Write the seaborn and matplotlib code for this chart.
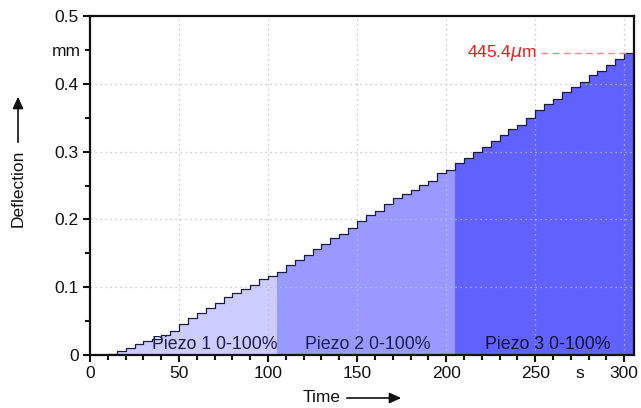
import numpy as np
import pandas as pd
import matplotlib
matplotlib.use("Agg")
import matplotlib.pyplot as plt
import seaborn as sns

# ---- data ----
time_s = [0, 5, 10, 15, 20, 25, 30, 35, 40, 45, 50, 55, 60, 65, 70, 75, 80, 85, 90, 95,
          100, 105, 110, 115, 120, 125, 130, 135, 140, 145, 150, 155, 160, 165, 170, 175,
          180, 185, 190, 195, 200, 205, 210, 215, 220, 225, 230, 235, 240, 245, 250, 255,
          260, 265, 270, 275, 280, 285, 290, 295, 300, 305]
deflection_mm = [0.000, 0.000, 0.002, 0.006, 0.010, 0.016, 0.020, 0.023, 0.029, 0.036,
                 0.045, 0.055, 0.062, 0.069, 0.077, 0.085, 0.092, 0.097, 0.103, 0.112,
                 0.117, 0.123, 0.133, 0.140, 0.148, 0.156, 0.163, 0.173, 0.179, 0.188,
                 0.198, 0.207, 0.213, 0.222, 0.231, 0.238, 0.243, 0.251, 0.257, 0.269,
                 0.273, 0.283, 0.290, 0.299, 0.307, 0.315, 0.3245, 0.333, 0.339, 0.350,
                 0.361, 0.370, 0.378, 0.388, 0.395, 0.402, 0.413, 0.419, 0.428, 0.437,
                 0.4454, 0.4454]
region_bounds = [(0, 105), (105, 205), (205, 305)]
region_labels = ["Piezo 1 0-100%", "Piezo 2 0-100%", "Piezo 3 0-100%"]
region_label_x = [70, 156, 257]
region_colors = ["#ccccff", "#9999ff", "#6161ff"]
region_text_colors = ["#1c1c55", "#1c1c55", "#111133"]
max_value_mm = 0.4454
max_label = "445.4$\\mu$m"
x_major = [0, 50, 100, 150, 200, 250, 300]
y_major = [0, 0.1, 0.2, 0.3, 0.4, 0.5]
y_major_labels = ["0", "0.1", "0.2", "0.3", "0.4", "0.5"]
y_minor = [0.05, 0.15, 0.25, 0.35, 0.45]
y_minor_labels = ["", "", "", "", "mm"]

df = pd.DataFrame({"t": time_s, "d": deflection_mm})

sns.set_theme(style="ticks")
plt.rcParams["font.family"] = ["Liberation Sans", "DejaVu Sans"]
plt.rcParams["mathtext.fontset"] = "dejavusans"

fig = plt.figure(figsize=(6.41, 4.08), dpi=100)
ax = fig.add_axes([90 / 641, 1 - 355 / 408, (634 - 90) / 641, (355 - 16) / 408])

t = np.array(time_s, dtype=float)
d = np.array(deflection_mm, dtype=float)
for (a, b), col in zip(region_bounds, region_colors):
    mask = (t >= a) & (t <= b)
    ax.fill_between(t[mask], 0, d[mask], step="post", color=col, lw=0, zorder=1)

sns.lineplot(data=df, x="t", y="d", ax=ax, drawstyle="steps-post",
             color="#1e1e3c", lw=0.9, zorder=3)

# grid (dotted, above fills)
for xv in x_major[1:]:
    ax.axvline(xv, color="#bdbdbd", lw=0.9, ls=(0, (1, 3)), zorder=2)
for yv in y_major[1:-1]:
    ax.axhline(yv, color="#bdbdbd", lw=0.9, ls=(0, (1, 3)), zorder=2)

# region labels
for lab, xv, tc in zip(region_labels, region_label_x, region_text_colors):
    ax.text(xv, 0.0155, lab, ha="center", va="center", fontsize=12.8, color=tc, zorder=4)

# max annotation
ax.plot([253, 303], [max_value_mm, max_value_mm], color="#f08a8a", lw=1.0,
        ls=(0, (5, 3)), zorder=4)
ax.text(251, max_value_mm, max_label, ha="right", va="center", fontsize=12.5,
        color="#ee1c1c", zorder=4)

ax.set_xlim(0, 305.5)
ax.set_ylim(0, 0.5)
ax.set_xticks(x_major)
ax.set_xticks(np.arange(0, 306, 10), minor=True)
ax.set_yticks(y_major, labels=y_major_labels)
ax.set_yticks(y_minor, labels=y_minor_labels, minor=True)
ax.tick_params(which="major", direction="out", length=5, width=1.5, labelsize=12.5,
               colors="#111111", pad=3)
ax.tick_params(which="minor", direction="out", length=3.5, width=1.5, labelsize=12.5,
               colors="#111111", pad=3)
for s in ax.spines.values():
    s.set_linewidth(1.6)
    s.set_color("#111111")
    s.set_zorder(5)
ax.set_xlabel("")
ax.set_ylabel("")

# unit "s" on x axis
ax.text(275, -0.028, "s", ha="center", va="center", fontsize=12.5, color="#111111")

# axis titles with arrows
fig.text(322 / 641, 1 - 398 / 408, "Time", ha="center", va="center", fontsize=12.5,
         color="#111111")
fig.add_artist(matplotlib.patches.FancyArrowPatch(
    (344 / 641, 1 - 398 / 408), (404 / 641, 1 - 398 / 408), transform=fig.transFigure,
    arrowstyle="-|>,head_length=7,head_width=3.2", color="#111111", lw=1.2))
fig.text(18 / 641, 1 - 188 / 408, "Deflection", ha="center", va="center", fontsize=12.5,
         rotation=90, color="#111111")
fig.add_artist(matplotlib.patches.FancyArrowPatch(
    (18 / 641, 1 - 145 / 408), (18 / 641, 1 - 94 / 408), transform=fig.transFigure,
    arrowstyle="-|>,head_length=7,head_width=3.2", color="#111111", lw=1.2))

fig.savefig("out.png", dpi=100)
